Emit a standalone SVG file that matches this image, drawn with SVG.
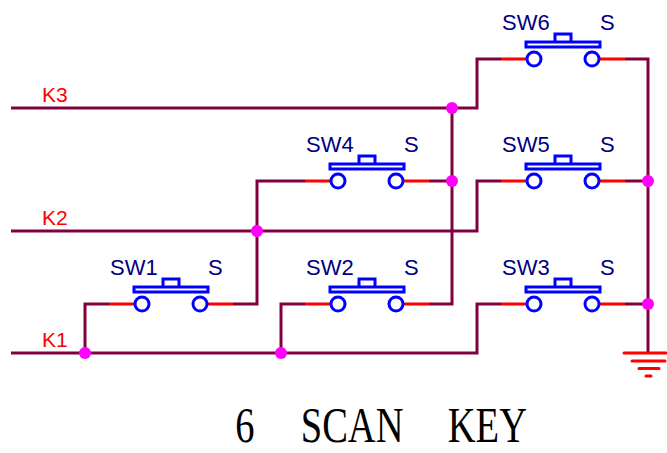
<svg xmlns="http://www.w3.org/2000/svg" width="667" height="453" viewBox="0 0 667 453">
<style>
.w{fill:none;stroke:#800040;stroke-width:3}
.p{fill:none;stroke:#f00;stroke-width:3}
.b{fill:none;stroke:#00f;stroke-width:3}
.j{fill:#f0f}
.n{font:22px "Liberation Sans",Arial,sans-serif;fill:#000080}
.k{font:21px "Liberation Sans",Arial,sans-serif;fill:#f00}
.t{font:50px "Liberation Serif","Times New Roman",serif;fill:#000}
.g{stroke:#f00;stroke-width:3;stroke-linecap:round}
</style>
<defs>
<g id="sw">
<path class="p" d="M-33 0H-7M65 0H91"/>
<circle class="b" cx="0" cy="0" r="7"/>
<circle class="b" cx="58" cy="0" r="7"/>
<path class="b" d="M-8-17H66V-12H-8ZM21-17V-25H37V-17"/>
</g>
</defs>
<g id="connectors">
<path class="w" d="M11 108H477V59H501"/>
<path class="w" d="M11 231H477V181H501"/>
<path class="w" d="M11 353H477V304H501"/>
<path class="w" d="M85 353V304H109"/>
<path class="w" d="M233 304H257V181H305"/>
<path class="w" d="M281 353V304H305"/>
<path class="w" d="M429 304H452V108"/>
<path class="w" d="M429 181H452"/>
<path class="w" d="M625 59H648V353"/>
<path class="w" d="M625 181H648"/>
<path class="w" d="M625 304H648"/>
</g>
<g id="SW1"><use href="#sw" x="142" y="304"/><text class="n" x="110" y="275">SW1</text><text class="n" x="208" y="275">S</text></g>
<g id="SW2"><use href="#sw" x="338" y="304"/><text class="n" x="306" y="275">SW2</text><text class="n" x="404" y="275">S</text></g>
<g id="SW3"><use href="#sw" x="534" y="304"/><text class="n" x="502" y="275">SW3</text><text class="n" x="600" y="275">S</text></g>
<g id="SW4"><use href="#sw" x="338" y="181"/><text class="n" x="306" y="152">SW4</text><text class="n" x="404" y="152">S</text></g>
<g id="SW5"><use href="#sw" x="534" y="181"/><text class="n" x="502" y="152">SW5</text><text class="n" x="600" y="152">S</text></g>
<g id="SW6"><use href="#sw" x="534" y="59"/><text class="n" x="502" y="30">SW6</text><text class="n" x="600" y="30">S</text></g>
<g id="junctions">
<circle class="j" cx="452" cy="108" r="6"/>
<circle class="j" cx="452" cy="181" r="6"/>
<circle class="j" cx="257" cy="231" r="6"/>
<circle class="j" cx="85" cy="353" r="6"/>
<circle class="j" cx="281" cy="353" r="6"/>
<circle class="j" cx="648" cy="181" r="6"/>
<circle class="j" cx="648" cy="304" r="6"/>
</g>
<g id="GND">
<path class="g" d="M624 353H666M632 361H665M639 368.500H659M646 376H651"/>
</g>
<g id="labels">
<text class="k" x="42" y="102">K3</text>
<text class="k" x="42" y="225">K2</text>
<text class="k" x="42" y="347">K1</text>
<text class="t" transform="translate(233 442) scale(.77 1)"><tspan x="3" y="0">6</tspan><tspan x="88" y="0">SCAN</tspan><tspan x="279" y="0">KEY</tspan></text>
</g>
</svg>
